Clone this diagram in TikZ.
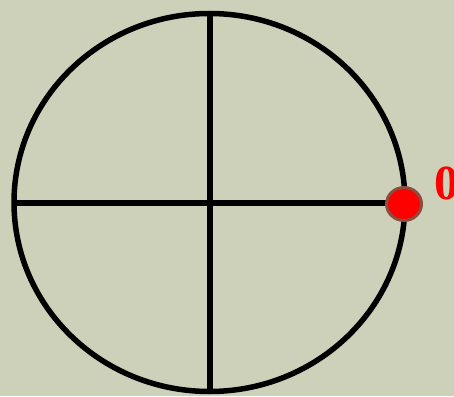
\documentclass[tikz,border=0pt]{standalone}
\usepackage{fontspec}
\setmainfont{Liberation Serif}
\usetikzlibrary{shapes.geometric}
\definecolor{bg}{RGB}{205,209,185}
\definecolor{dotedge}{RGB}{139,78,62}
\begin{document}
\begin{tikzpicture}[x=1pt,y=-1pt,
  axis/.style={line width=5.5pt,black},
  marker/.style={ellipse,draw=dotedge,line width=3pt,fill=red,minimum width=35pt,minimum height=33pt,inner sep=0pt},
  lbl/.style={text=red,font=\bfseries\fontsize{49}{49}\selectfont,inner sep=0pt,anchor=base west}]
\clip (0,0) rectangle (454,396);
\fill[bg] (0,0) rectangle (454,396);
\useasboundingbox (0,0) rectangle (454,396);
\coordinate (c) at (209.5,202.5);
\coordinate (t) at (210,13.5);
\coordinate (b) at (210,391.5);
\coordinate (l) at (13.5,203);
\coordinate (r) at (405,203);
\draw[axis] (c) ellipse [x radius=195.5, y radius=189];
\draw[axis] (t) -- (b);
\draw[axis] (l) -- (r);
\node[marker] (dot) at (404,204) {};
\node[lbl] (zero) at (434,199) {0};
\end{tikzpicture}
\end{document}
